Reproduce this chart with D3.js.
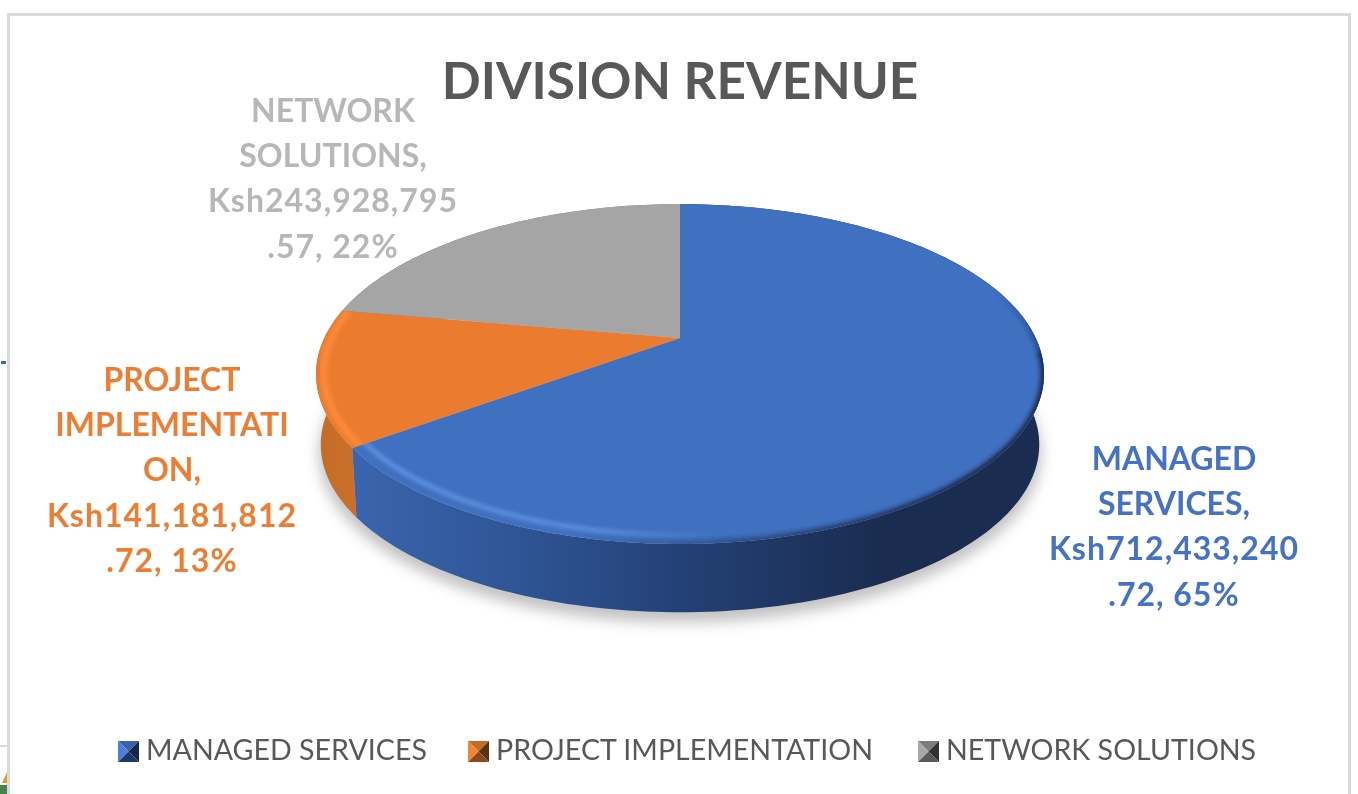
<!DOCTYPE html>
<html>
<head>
<meta charset="utf-8">
<title>Division Revenue</title>
<script src="https://cdn.jsdelivr.net/npm/d3@7"></script>
<style>
	html,body{margin:0;padding:0;background:#fff;overflow:hidden;}
	svg{display:block;}
	text{font-family:Lato,"Open Sans",sans-serif;}
</style>
</head>
<body>
<div class="chart"></div>
<script>
const title = 'DIVISION REVENUE';
const categories = ['MANAGED SERVICES', 'PROJECT IMPLEMENTATION', 'NETWORK SOLUTIONS'];
const revenue = [712433240.72, 141181812.72, 243928795.57];
const labelLines = [
	['MANAGED', 'SERVICES,', 'Ksh712,433,240', '.72, 65%'],
	['PROJECT', 'IMPLEMENTATI', 'ON,', 'Ksh141,181,812', '.72, 13%'],
	['NETWORK', 'SOLUTIONS,', 'Ksh243,928,795', '.57, 22%']
];
const colors = ['#4070c0', '#ea7b2f', '#a5a5a5'];
const labelColors = ['#4472c4', '#ed7d31', '#b7b7b7'];

const width = 1358, height = 794;
const cx = 680, cy = 338;
// perspective of the tilted disc
const persp = -0.212, scaleX = 355.7, scaleY = 162.3;
const depth = 71, bottomScale = 0.987;

// disc coordinates (r, angle clockwise from top) to screen
function project(r, a){
	const u = r*Math.sin(a), v = -r*Math.cos(a);
	const d = 1 + persp*v;
	return [cx + scaleX*u/d, cy + scaleY*v/d];
}
function projectBottom(r, a){
	const p = project(r, a);
	return [cx + (p[0]-cx)*bottomScale, cy + (p[1]-cy)*bottomScale + depth];
}
function rim(fn, r, a0, a1){
	const n = Math.max(2, Math.ceil(Math.abs(a1-a0)/0.02));
	return d3.range(n+1).map(i => fn(r, a0 + (a1-a0)*i/n));
}

const line = d3.line();
const svg = d3.select('.chart').append('svg').attr('width', width).attr('height', height);
const defs = svg.append('defs');

[['blur-shadow', 7], ['blur-edge', 2.2], ['blur-light', 2], ['blur-text', 0.45], ['blur-swatch', 0.7]].forEach(b => {
	defs.append('filter').attr('id', b[0])
		.attr('x', '-10%').attr('y', '-10%').attr('width', '120%').attr('height', '120%')
		.append('feGaussianBlur').attr('stdDeviation', b[1]);
});

function gradient(id, from, to, stops, vertical){
	const g = defs.append('linearGradient').attr('id', id)
		.attr('gradientUnits', 'userSpaceOnUse')
		.attr('x1', vertical ? 0 : from).attr('x2', vertical ? 0 : to)
		.attr('y1', vertical ? from : 0).attr('y2', vertical ? to : 0);
	stops.forEach(s => g.append('stop').attr('offset', s[0]).attr('stop-color', s[1]).attr('stop-opacity', s[2] === undefined ? 1 : s[2]));
}
gradient('side-0', 357, 880, [[0, '#3a64ad'], [0.3, '#2f5596'], [0.65, '#233f73'], [1, '#1a2c50']]);
gradient('side-1', 315, 362, [[0, '#c46c27'], [1, '#cc7029']]);
gradient('side-2', 340, 680, [[0, '#7c7c7c'], [1, '#7c7c7c']]);
gradient('light-0', 357, 720, [[0, '#6d9ff0', 0.85], [0.65, '#6d9ff0', 0.75], [1, '#6d9ff0', 0]]);
gradient('light-1', 315, 362, [[0, '#ff8a38', 0.95], [1, '#ff8a38', 0.95]]);
gradient('dark-0', 580, 960, [[0, '#1a2c50', 0], [0.4, '#1a2c50', 0.5], [1, '#1a2c50', 1]]);
gradient('dark-back', 290, 385, [[0, '#1a2c50', 0], [1, '#1a2c50', 1]], true);

// frame and the bits of the page around it
const frame = svg.append('g').attr('class', 'frame');
frame.append('path')
	.attr('d', line([[8.5, height], [8.5, 14.5], [1349.5, 14.5], [1349.5, height]]))
	.attr('fill', 'none').attr('stroke', '#dadada').attr('stroke-width', 3);
frame.append('rect').attr('x', 0).attr('y', 745).attr('width', 7).attr('height', 2).attr('fill', '#d9d9d9');
frame.append('rect').attr('x', 1).attr('y', 361).attr('width', 5).attr('height', 3).attr('fill', '#3a6ba5');
frame.append('path').attr('d', line([[7, 772], [2, 783], [7, 783]])).attr('fill', '#dc9a35');
frame.append('rect').attr('x', 0).attr('y', 785).attr('width', 7).attr('height', 9).attr('fill', '#4a7f4e');

const pie = d3.pie().sort(null).startAngle(0).endAngle(2*Math.PI);
const arcs = pie(revenue);

const chart = svg.append('g').attr('class', 'pie');

// drop shadow under the disc
chart.append('path')
	.attr('d', line(rim((r, a) => {
		const p = projectBottom(r, a);
		return [p[0], p[1] + 9];
	}, 1.005, 0, 2*Math.PI)) + 'Z')
	.attr('fill', '#000').attr('fill-opacity', 0.24)
	.attr('filter', 'url(#blur-shadow)');

// side walls, back to front is not needed as the top faces cover the rest
chart.selectAll('path.side')
	.data(arcs.slice().reverse())
	.join('path')
	.attr('class', 'side')
	.attr('d', d => line(rim(project, 1, d.startAngle, d.endAngle).concat(rim(projectBottom, 1, d.endAngle, d.startAngle))) + 'Z')
	.attr('fill', d => `url(#side-${d.index})`);

function facePath(d){
	return line([project(0, 0)].concat(rim(project, 1, d.startAngle, d.endAngle))) + 'Z';
}

arcs.forEach(d => {
	defs.append('clipPath').attr('id', `face-${d.index}`)
		.append('path').attr('d', facePath(d));
});

chart.selectAll('path.face')
	.data(arcs)
	.join('path')
	.attr('class', 'face')
	.attr('d', facePath)
	.attr('fill', d => colors[d.index]);

// bevel on the rim of the two front slices
const bevel = chart.append('g').attr('class', 'bevel');
const blueArc = arcs[0], orangeArc = arcs[1];

const blueGroup = bevel.append('g').attr('clip-path', 'url(#face-0)');
blueGroup.append('path')
	.attr('d', line(rim(project, 1, 1.0, 1.68)))
	.attr('fill', 'none').attr('stroke', 'url(#dark-back)').attr('stroke-width', 7)
	.attr('filter', 'url(#blur-edge)');
blueGroup.append('path')
	.attr('d', line(rim(project, 1, 1.66, blueArc.endAngle)))
	.attr('fill', 'none').attr('stroke', 'url(#dark-0)').attr('stroke-width', 7)
	.attr('filter', 'url(#blur-edge)');
blueGroup.append('path')
	.attr('d', line(rim(project, 0.965, 2.2, blueArc.endAngle + 0.03)))
	.attr('fill', 'none').attr('stroke', 'url(#light-0)').attr('stroke-width', 4)
	.attr('filter', 'url(#blur-light)');

bevel.append('g').attr('clip-path', 'url(#face-1)')
	.append('path')
	.attr('d', line(rim(project, 0.98, orangeArc.startAngle, orangeArc.endAngle)))
	.attr('fill', 'none').attr('stroke', 'url(#light-1)').attr('stroke-width', 7)
	.attr('filter', 'url(#blur-light)');

// texts
const texts = svg.append('g').attr('class', 'texts').attr('filter', 'url(#blur-text)');

texts.append('text')
	.attr('x', 680).attr('y', 99)
	.attr('text-anchor', 'middle')
	.attr('font-size', 51.3).attr('font-weight', 700)
	.attr('fill', '#595959')
	.text(title);

const labelSpots = [
	{x: 1174, y: 470},
	{x: 172, y: 391},
	{x: 333, y: 122}
];
labelLines.forEach((lines, i) => {
	texts.append('text')
		.attr('text-anchor', 'middle')
		.attr('font-size', 32).attr('font-weight', 700)
		.attr('fill', labelColors[i])
		.selectAll('tspan')
		.data(lines)
		.join('tspan')
		.attr('x', labelSpots[i].x)
		.attr('y', (d, j) => labelSpots[i].y + j*45.2)
		.attr('letter-spacing', d => /\d/.test(d) ? 1 : 0)
		.text(d => d);
});

// legend
const legendX = [118, 468, 918];
const swatchShades = [
	['#3a64ad', '#4a80dc', '#16264a', '#1f3766'],
	['#c46c27', '#f58535', '#5a3010', '#8a4c1c'],
	['#7c7c7c', '#a8a8a8', '#333333', '#5a5a5a']
];
const legend = svg.append('g').attr('class', 'legend');
categories.forEach((name, i) => {
	const g = legend.append('g').attr('transform', `translate(${legendX[i]},741)`)
		.attr('filter', 'url(#blur-swatch)');
	const s = 21, m = s/2;
	const tris = [
		[[0, 0], [s, 0], [m, m]],
		[[0, 0], [m, m], [0, s]],
		[[s, 0], [s, s], [m, m]],
		[[0, s], [m, m], [s, s]]
	];
	g.selectAll('path')
		.data(tris)
		.join('path')
		.attr('d', d => line(d) + 'Z')
		.attr('fill', (d, j) => swatchShades[i][j]);
	texts.append('text')
		.attr('x', legendX[i] + 28).attr('y', 760)
		.attr('font-size', 28.6).attr('fill', '#595959')
		.text(name);
});
</script>
</body>
</html>
